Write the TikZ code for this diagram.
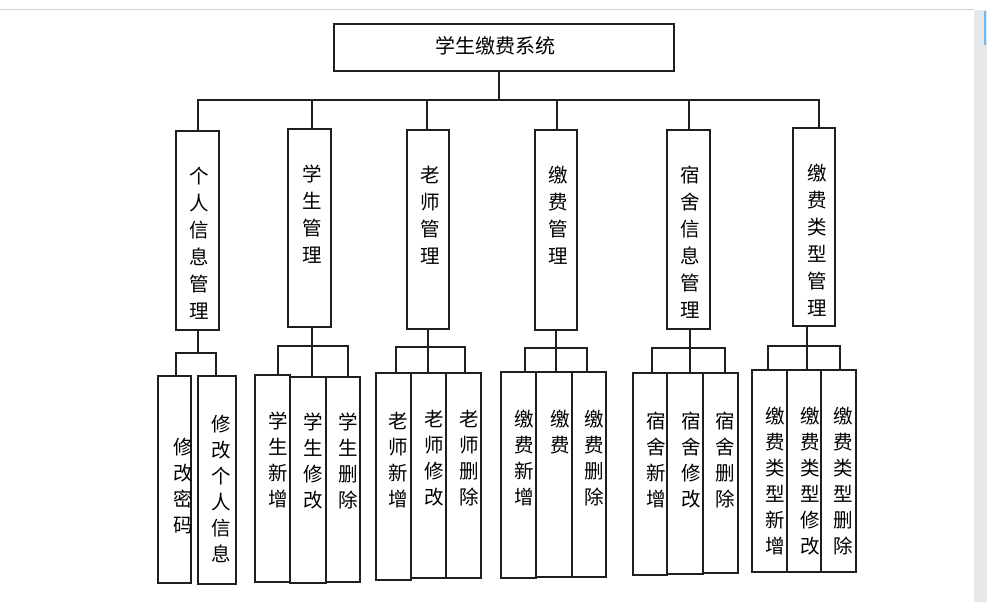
\documentclass[tikz,border=0pt]{standalone}
\usepackage{fontspec}
\setmainfont{Noto Sans CJK SC}
\newcommand{\vcell}[6]{% #1 W, #2 H, #3 top offset, #4 2*dx, #5 pitch, #6 text
\parbox[c][#2pt][t]{#1pt}{\parskip=0pt\fontsize{19.5pt}{#5pt}\selectfont
\vspace*{#3pt}\centering\leftskip=#4pt plus 1fil\relax #6\par\vss}}
\tikzset{
  frame/.style={draw=black!88, line width=1.4pt, inner sep=0pt, outer sep=0pt, anchor=north west},
  wire/.style={draw=black!88, line width=1.4pt, line cap=rect}
}
\begin{document}
\begin{tikzpicture}[x=1pt,y=-1pt]
\useasboundingbox (0,0) rectangle (987,602);
\fill[white] (0,0) rectangle (987,602);
% screenshot edges
\draw[black!18, line width=1pt] (0,9.5) -- (974,9.5);
\fill[black!9] (974,10) rectangle (987,602);
\fill[blue!45!cyan!60] (984,11) rectangle (986,45);

% root
\node[frame, minimum width=340, minimum height=47,
  label={[font=\fontsize{20pt}{24pt}\selectfont, xshift=-9pt, yshift=2pt]center:学生缴费系统}] (root) at (334,24) {};

% level 2
\node[frame] (L1) at (176,131) {\vcell{43}{199}{36}{3}{27}{个\\人\\信\\息\\管\\理}};
\node[frame] (L2) at (288,129) {\vcell{43}{198}{36}{6}{27}{学\\生\\管\\理}};
\node[frame] (L3) at (407,130) {\vcell{42}{199}{36}{5}{27}{老\\师\\管\\理}};
\node[frame] (L4) at (535,130) {\vcell{42}{200}{36}{5}{27}{缴\\费\\管\\理}};
\node[frame] (L5) at (667,130) {\vcell{43}{199}{36}{4}{27}{宿\\舍\\信\\息\\管\\理}};
\node[frame] (L6) at (793,128) {\vcell{42}{198}{36}{6}{27}{缴\\费\\类\\型\\管\\理}};

% level 1 -> level 2 connectors
\coordinate (r0) at (499,100);
\coordinate (t1) at (198,100);
\coordinate (t2) at (312,100);
\coordinate (t3) at (427,100);
\coordinate (t4) at (557,100);
\coordinate (t5) at (689,100);
\coordinate (t6) at (819,100);
\draw[wire] (r0 |- root.south) -- (r0);
\draw[wire] (t1) -- (t6);
\foreach \i in {1,...,6} { \draw[wire] (t\i) -- (t\i |- L\i.north); }

% level 3 boxes
\node[frame] (A1) at (158,376) {\vcell{33}{207}{62}{15}{26}{修\\改\\密\\码}};
\node[frame] (A2) at (198,376) {\vcell{38}{208}{39}{8}{26}{修\\改\\个\\人\\信\\息}};

\node[frame] (B1) at (255,375) {\vcell{35}{207}{37}{11}{26}{学\\生\\新\\增}};
\node[frame] (B2) at (290,377) {\vcell{36}{206}{36}{10}{26}{学\\生\\修\\改}};
\node[frame] (B3) at (326,377) {\vcell{34}{205}{36}{10}{26}{学\\生\\删\\除}};

\node[frame] (C1) at (376,373) {\vcell{35}{207}{39}{10}{26}{老\\师\\新\\增}};
\node[frame] (C2) at (411,373) {\vcell{35}{205}{37}{12}{26}{老\\师\\修\\改}};
\node[frame] (C3) at (446,373) {\vcell{35}{205}{37}{12}{26}{老\\师\\删\\除}};

\node[frame] (D1) at (501,372) {\vcell{35}{206}{38}{12}{26}{缴\\费\\新\\增}};
\node[frame] (D2) at (536,372) {\vcell{36}{205}{38}{12}{26}{缴\\费}};
\node[frame] (D3) at (572,372) {\vcell{34}{205}{38}{10}{26}{缴\\费\\删\\除}};

\node[frame] (E1) at (633,373) {\vcell{34}{202}{39}{12}{26}{宿\\舍\\新\\增}};
\node[frame] (E2) at (667,373) {\vcell{36}{201}{39}{12}{26}{宿\\舍\\修\\改}};
\node[frame] (E3) at (703,373) {\vcell{35}{200}{39}{10}{26}{宿\\舍\\删\\除}};

\node[frame] (F1) at (752,370) {\vcell{35}{202}{37}{12}{26}{缴\\费\\类\\型\\新\\增}};
\node[frame] (F2) at (787,370) {\vcell{34}{202}{37}{13}{26}{缴\\费\\类\\型\\修\\改}};
\node[frame] (F3) at (821,370) {\vcell{35}{202}{37}{10}{26}{缴\\费\\类\\型\\删\\除}};

% level 2 -> level 3 connectors
% group 1
\coordinate (s1) at (198,353);
\coordinate (a1) at (176,353);
\coordinate (a2) at (216,353);
\draw[wire] (s1 |- L1.south) -- (s1);
\draw[wire] (a1) -- (a2);
\draw[wire] (a1) -- (a1 |- A1.north);
\draw[wire] (a2) -- (a2 |- A2.north);
% group 2
\coordinate (s2) at (312,346);
\coordinate (b1) at (278,346);
\coordinate (b3) at (348,346);
\draw[wire] (s2 |- L2.south) -- (s2 |- B2.north);
\draw[wire] (b1) -- (b3);
\draw[wire] (b1) -- (b1 |- B1.north);
\draw[wire] (b3) -- (b3 |- B3.north);
% group 3
\coordinate (s3) at (428,347);
\coordinate (c1) at (396,347);
\coordinate (c3) at (465,347);
\draw[wire] (s3 |- L3.south) -- (s3 |- C2.north);
\draw[wire] (c1) -- (c3);
\draw[wire] (c1) -- (c1 |- C1.north);
\draw[wire] (c3) -- (c3 |- C3.north);
% group 4
\coordinate (s4) at (556,348);
\coordinate (d1) at (525,348);
\coordinate (d3) at (587,348);
\draw[wire] (s4 |- L4.south) -- (s4 |- D2.north);
\draw[wire] (d1) -- (d3);
\draw[wire] (d1) -- (d1 |- D1.north);
\draw[wire] (d3) -- (d3 |- D3.north);
% group 5
\coordinate (s5) at (690,348);
\coordinate (e1) at (652,348);
\coordinate (e3) at (725,348);
\draw[wire] (s5 |- L5.south) -- (s5 |- E2.north);
\draw[wire] (e1) -- (e3);
\draw[wire] (e1) -- (e1 |- E1.north);
\draw[wire] (e3) -- (e3 |- E3.north);
% group 6
\coordinate (s6) at (807,346);
\coordinate (f1) at (768,346);
\coordinate (f3) at (840,346);
\draw[wire] (s6 |- L6.south) -- (s6 |- F2.north);
\draw[wire] (f1) -- (f3);
\draw[wire] (f1) -- (f1 |- F1.north);
\draw[wire] (f3) -- (f3 |- F3.north);
\end{tikzpicture}
\end{document}
